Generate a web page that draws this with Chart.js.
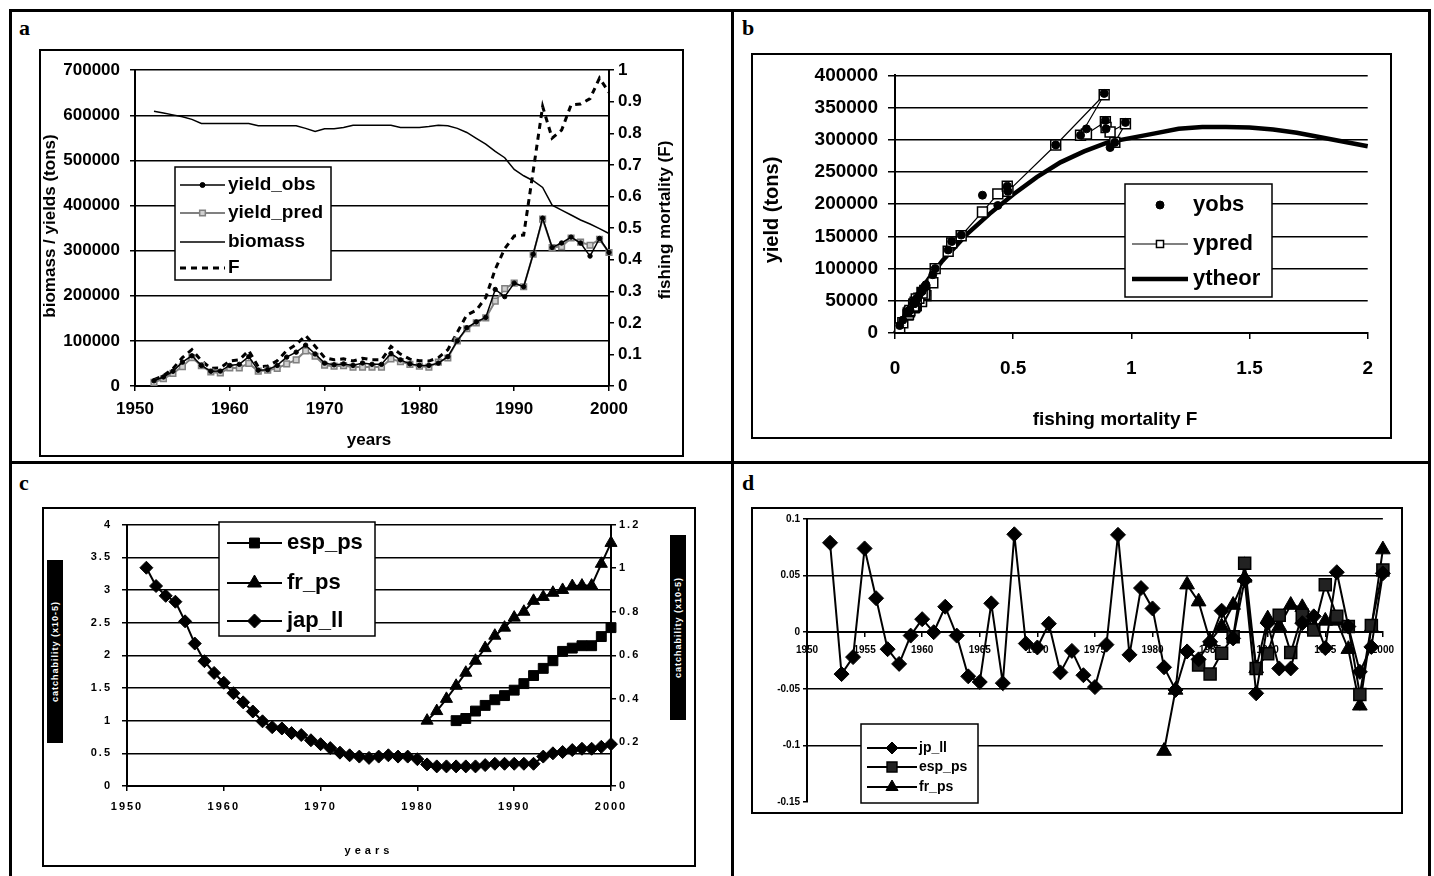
<!DOCTYPE html>
<html>
<head>
<meta charset="utf-8">
<script src="https://cdn.jsdelivr.net/npm/chart.js@4.4.1/dist/chart.umd.min.js"></script>
<style>
  html, body { margin: 0; padding: 0; background: #fff; }
  #page { position: relative; width: 1434px; height: 876px; overflow: hidden; font-family: "Liberation Sans", Arial, sans-serif; }
  #page canvas { position: absolute; }
  .line { position: absolute; background: #000; }
  .box { position: absolute; border: 2px solid #000; box-sizing: border-box; pointer-events: none; }
  .tag { position: absolute; font: bold 22px "Liberation Serif", "Times New Roman", serif; line-height: 22px; }
  .qbox { position: absolute; background: #000; color: #fff; font: bold 9px "Liberation Sans", Arial, sans-serif;
          writing-mode: vertical-rl; transform: rotate(180deg); text-align: center; line-height: 16px;
          letter-spacing: 1px; overflow: hidden; white-space: nowrap; }
</style>
</head>
<body>
<div id="page">
  <canvas id="ca" width="643" height="406" style="left:40px;top:50px"></canvas>
  <canvas id="cb" width="639" height="384" style="left:752px;top:54px"></canvas>
  <canvas id="cc" width="652" height="358" style="left:43px;top:508px"></canvas>
  <canvas id="cd" width="650" height="305" style="left:752px;top:508px"></canvas>

  <div class="box" style="left:39px;top:49px;width:645px;height:408px"></div>
  <div class="box" style="left:751px;top:53px;width:641px;height:386px"></div>
  <div class="box" style="left:42px;top:507px;width:654px;height:360px"></div>
  <div class="box" style="left:751px;top:507px;width:652px;height:307px"></div>

  <div class="qbox" style="left:47px;top:560px;width:16px;height:183px">catchability (x10-5)</div>
  <div class="qbox" style="left:670px;top:535px;width:16px;height:185px">catchability (x10-5)</div>

  <div class="line" style="left:9px;top:9px;width:1422px;height:3px"></div>
  <div class="line" style="left:9px;top:9px;width:3px;height:880px"></div>
  <div class="line" style="left:1428px;top:9px;width:3px;height:880px"></div>
  <div class="line" style="left:731px;top:9px;width:3px;height:880px"></div>
  <div class="line" style="left:9px;top:461px;width:1422px;height:3px"></div>

  <div class="tag" style="left:19px;top:17px">a</div>
  <div class="tag" style="left:742px;top:17px">b</div>
  <div class="tag" style="left:19px;top:472px">c</div>
  <div class="tag" style="left:742px;top:472px">d</div>
</div>

<script>
// ---- data ----
const years = [1952, 1953, 1954, 1955, 1956, 1957, 1958, 1959, 1960, 1961, 1962, 1963, 1964, 1965, 1966, 1967,
  1968, 1969, 1970, 1971, 1972, 1973, 1974, 1975, 1976, 1977, 1978, 1979, 1980, 1981, 1982, 1983, 1984, 1985,
  1986, 1987, 1988, 1989, 1990, 1991, 1992, 1993, 1994, 1995, 1996, 1997, 1998, 1999, 2000];

// panel a (tons, and F on the right axis)
const yieldObs = [11600, 20000, 32600, 53000, 67000, 45600, 32600, 33000, 45600, 48000, 65000, 35000, 36000, 45600,
  64000, 75000, 90500, 71000, 50700, 47000, 49000, 45600, 51000, 48000, 48000, 72000, 58000, 49000, 45600, 45600,
  50700, 65000, 100000, 129000, 142000, 152000, 214000, 198000, 228000, 220000, 292000, 372000, 307000, 317000,
  330000, 317000, 288000, 327000, 296000];
const yieldPred = [8000, 16000, 28000, 43000, 63000, 45000, 31000, 29000, 40000, 40000, 50000, 33000, 35000, 39000,
  49000, 58000, 78000, 66000, 46000, 44000, 45000, 42000, 42000, 42000, 42000, 60000, 54000, 48000, 44000, 42000,
  53000, 62000, 100000, 127000, 140000, 151000, 188000, 216000, 228000, 220000, 292000, 370000, 307000, 309000,
  328000, 319000, 312000, 325000, 296000];
const biomass = [609000, 605000, 601000, 597000, 591000, 582000, 582000, 582000, 582000, 582000, 582000, 577000,
  577000, 577000, 577000, 577000, 571000, 564000, 570000, 570000, 573000, 578000, 578000, 578000, 578000, 578000,
  573000, 573000, 573000, 575000, 578000, 577000, 571000, 562000, 549000, 536000, 520000, 506000, 480000, 466000,
  455000, 440000, 401000, 390000, 379000, 368000, 359000, 349000, 338000];
const fishingF = [0.020, 0.033, 0.055, 0.090, 0.115, 0.080, 0.056, 0.057, 0.079, 0.083, 0.112, 0.061, 0.063, 0.080,
  0.112, 0.131, 0.160, 0.126, 0.090, 0.083, 0.086, 0.079, 0.088, 0.083, 0.083, 0.125, 0.101, 0.085, 0.080, 0.079,
  0.090, 0.115, 0.170, 0.225, 0.240, 0.280, 0.370, 0.435, 0.475, 0.478, 0.680, 0.885, 0.785, 0.810, 0.890, 0.893,
  0.910, 0.975, 0.930];

// panel b theoretical yield curve
const theorF = [0, 0.05, 0.1, 0.15, 0.2, 0.3, 0.4, 0.5, 0.6, 0.7, 0.8, 0.9, 1.0, 1.1, 1.2, 1.3, 1.4, 1.5, 1.6, 1.7,
  1.8, 1.9, 2.0];
const theorY = [0, 33000, 62000, 88000, 112000, 152000, 185000, 215000, 242000, 265000, 282000, 296000, 303000,
  310000, 317000, 320000, 320000, 319000, 316000, 311000, 304000, 297000, 290000];

// panel c catchabilities
const qJapLL = [3.34, 3.06, 2.91, 2.82, 2.52, 2.18, 1.91, 1.73, 1.58, 1.42, 1.28, 1.14, 0.99, 0.90, 0.88, 0.81, 0.78,
  0.70, 0.64, 0.58, 0.51, 0.47, 0.45, 0.43, 0.45, 0.47, 0.45, 0.45, 0.41, 0.33, 0.30, 0.30, 0.30, 0.30, 0.30, 0.32,
  0.34, 0.34, 0.34, 0.34, 0.34, 0.45, 0.50, 0.52, 0.55, 0.57, 0.57, 0.60, 0.64];
const qFrPS = [0.30, 0.344, 0.40, 0.46, 0.52, 0.575, 0.633, 0.69, 0.727, 0.773, 0.80, 0.85, 0.868, 0.887, 0.90,
  0.918, 0.92, 0.92, 1.02, 1.116];
const qEspPS = [0.30, 0.31, 0.344, 0.37, 0.396, 0.415, 0.44, 0.47, 0.507, 0.54, 0.575, 0.618, 0.633, 0.644, 0.644,
  0.686, 0.727];

// panel d residuals
const resJpLL = [0.079, -0.037, -0.022, 0.074, 0.030, -0.015, -0.028, -0.003, 0.0115, 0.000, 0.0225, -0.003, -0.039,
  -0.044, 0.0255, -0.045, 0.0865, -0.010, -0.0135, 0.0075, -0.0355, -0.0165, -0.038, -0.0485, -0.011, 0.086, -0.020,
  0.039, 0.021, -0.031, -0.051, -0.017, -0.024, -0.0085, 0.019, -0.0055, 0.046, -0.054, 0.008, -0.032, -0.032, 0.008,
  0.014, -0.014, 0.053, 0.005, -0.035, -0.013, 0.052];
const resEspPS = [-0.029, -0.037, -0.0185, -0.004, 0.061, -0.032, -0.019, 0.015, -0.018, 0.015, 0.002, 0.042, 0.014,
  0.005, -0.055, 0.006, 0.055];
const resFrPS = [-0.105, -0.051, 0.042, 0.027, -0.008, 0.005, 0.024, 0.048, -0.032, 0.012, 0.005, 0.024, 0.022,
  0.003, 0.010, 0.010, -0.015, -0.065, 0.004, 0.073];

const frYears = years.slice(29);   // 1981-2000
const espYears = years.slice(32);  // 1984-2000

// ---- helpers ----
const FONT = '"Liberation Sans", Arial, sans-serif';
Chart.defaults.font.family = FONT;
Chart.defaults.font.weight = 'bold';
Chart.defaults.color = '#000';
Chart.defaults.plugins.legend.display = false;
Chart.defaults.plugins.tooltip.enabled = false;

const pts = (xs, ys) => xs.map((x, i) => ({ x: x, y: ys[i] }));
const fmt = v => String(Math.round(v * 1000) / 1000);

function mark(ctx, style, r, x, y) {
  ctx.beginPath();
  if (style === 'rect') {
    const s = r * Math.SQRT1_2;
    ctx.rect(x - s, y - s, 2 * s, 2 * s);
  } else if (style === 'rectRot') {
    ctx.moveTo(x, y - r); ctx.lineTo(x + r, y); ctx.lineTo(x, y + r); ctx.lineTo(x - r, y); ctx.closePath();
  } else if (style === 'triangle') {
    ctx.moveTo(x, y - r); ctx.lineTo(x + 0.866 * r, y + 0.5 * r); ctx.lineTo(x - 0.866 * r, y + 0.5 * r); ctx.closePath();
  } else {
    ctx.arc(x, y, r, 0, Math.PI * 2);
  }
  ctx.fill();
  ctx.stroke();
}

// legend drawn as a framed box inside the plot
const boxLegend = {
  id: 'boxLegend',
  afterDatasetsDraw(chart, args, o) {
    if (!o.box) return;
    const ctx = chart.ctx;
    const bx = o.box[0], by = o.box[1], bw = o.box[2], bh = o.box[3];
    ctx.save();
    ctx.letterSpacing = '0px';
    ctx.fillStyle = '#fff';
    ctx.fillRect(bx, by, bw, bh);
    ctx.strokeStyle = '#000';
    ctx.lineWidth = 1.5;
    ctx.strokeRect(bx, by, bw, bh);
    ctx.font = o.font;
    ctx.textBaseline = 'middle';
    ctx.textAlign = 'left';
    o.order.forEach((idx, i) => {
      const ds = chart.data.datasets[idx];
      const y = o.rows[i];
      const x0 = o.line[0], x1 = o.line[1];
      if (ds.showLine !== false) {
        ctx.beginPath();
        ctx.setLineDash(ds.borderDash || []);
        ctx.lineWidth = ds.borderWidth;
        ctx.strokeStyle = ds.borderColor;
        ctx.moveTo(x0, y);
        ctx.lineTo(x1, y);
        ctx.stroke();
        ctx.setLineDash([]);
      }
      if (ds.pointRadius) {
        ctx.fillStyle = ds.pointBackgroundColor;
        ctx.strokeStyle = ds.pointBorderColor;
        ctx.lineWidth = ds.pointBorderWidth || 1;
        mark(ctx, ds.pointStyle, o.radius[i], (x0 + x1) / 2, y);
      }
      ctx.fillStyle = '#000';
      ctx.fillText(ds.label, o.textX, y);
    });
    ctx.restore();
  }
};

// axis titles placed by hand (right titles read bottom-to-top in the original)
const axisTitles = {
  id: 'axisTitles',
  beforeDraw(chart, args, o) { chart.ctx.letterSpacing = o.tickSpacing || '0px'; },
  beforeDatasetsDraw(chart) { chart.ctx.letterSpacing = '0px'; },
  afterDraw(chart, args, o) {
    const ctx = chart.ctx;
    (o.items || []).forEach(t => {
      ctx.save();
      ctx.translate(t.x, t.y);
      if (t.rot) ctx.rotate(t.rot * Math.PI / 180);
      ctx.font = t.font;
      ctx.letterSpacing = t.spacing || '0px';
      ctx.fillStyle = '#000';
      ctx.textAlign = 'center';
      ctx.textBaseline = 'middle';
      ctx.fillText(t.text, 0, 0);
      ctx.restore();
    });
  }
};

const BORDER = { display: true, color: '#000', width: 2 };

// ---- panel a ----
new Chart(document.getElementById('ca'), {
  type: 'line',
  plugins: [boxLegend, axisTitles],
  data: {
    datasets: [
      { label: 'yield_obs', data: pts(years, yieldObs), yAxisID: 'y', borderColor: '#000', borderWidth: 1.5,
        pointStyle: 'circle', pointRadius: 2.2, pointBackgroundColor: '#000', pointBorderColor: '#000', pointBorderWidth: 1 },
      { label: 'yield_pred', data: pts(years, yieldPred), yAxisID: 'y', borderColor: '#808080', borderWidth: 2,
        pointStyle: 'rect', pointRadius: 4, pointBackgroundColor: '#cfcfcf', pointBorderColor: '#808080', pointBorderWidth: 1.5 },
      { label: 'biomass', data: pts(years, biomass), yAxisID: 'y', borderColor: '#000', borderWidth: 1.5, pointRadius: 0 },
      { label: 'F', data: pts(years, fishingF), yAxisID: 'y1', borderColor: '#000', borderWidth: 3,
        borderDash: [6, 5], pointRadius: 0 }
    ]
  },
  options: {
    responsive: false, animation: false, devicePixelRatio: 1, clip: false,
    layout: { autoPadding: false, padding: { left: 0, top: 16, right: 0, bottom: 2 } },
    scales: {
      x: { type: 'linear', min: 1950, max: 2000, border: BORDER,
           grid: { drawOnChartArea: false, color: '#000', lineWidth: 1.5, tickLength: 5 },
           ticks: { stepSize: 10, padding: 8, font: { size: 17 }, callback: fmt },
           afterFit: s => { s.height = 68; } },
      y: { position: 'left', min: 0, max: 700000, border: BORDER,
           grid: { color: '#000', lineWidth: 1.5, tickLength: 5 },
           ticks: { stepSize: 100000, padding: 10, font: { size: 17 }, callback: fmt },
           afterFit: s => { s.width = 95; } },
      y1: { position: 'right', min: 0, max: 1, border: BORDER,
           grid: { drawOnChartArea: false, color: '#000', lineWidth: 1.5, tickLength: 5 },
           ticks: { stepSize: 0.1, padding: 4, font: { size: 17 }, callback: fmt },
           afterFit: s => { s.width = 74; } }
    },
    plugins: {
      boxLegend: { box: [135, 117, 156, 113], rows: [135, 163, 192, 218], line: [140, 185], textX: 188,
                   font: 'bold 19px ' + FONT, order: [0, 1, 2, 3], radius: [2.5, 4, 0, 0] },
      axisTitles: { items: [
        { text: 'biomass / yields (tons)', x: 10, y: 176, rot: -90, font: 'bold 17px ' + FONT },
        { text: 'fishing mortality (F)', x: 625, y: 170, rot: -90, font: 'bold 17px ' + FONT },
        { text: 'years', x: 329, y: 390, font: 'bold 17px ' + FONT }
      ] }
    }
  }
});

// ---- panel b ----
new Chart(document.getElementById('cb'), {
  type: 'scatter',
  plugins: [boxLegend, axisTitles],
  data: {
    datasets: [
      { label: 'yobs', data: pts(fishingF, yieldObs), showLine: false, pointStyle: 'circle', pointRadius: 4,
        pointBackgroundColor: '#000', pointBorderColor: '#000', pointBorderWidth: 1 },
      { label: 'ypred', data: pts(fishingF, yieldPred), showLine: true, borderColor: '#000', borderWidth: 1.2,
        pointStyle: 'rect', pointRadius: 7, pointBackgroundColor: '#fff', pointBorderColor: '#000', pointBorderWidth: 1.5 },
      { label: 'ytheor', data: pts(theorF, theorY), showLine: true, borderColor: '#000', borderWidth: 4.5, pointRadius: 0 }
    ]
  },
  options: {
    responsive: false, animation: false, devicePixelRatio: 1, clip: false,
    layout: { autoPadding: false, padding: { left: 5, top: 20, right: 16, bottom: 3 } },
    scales: {
      x: { type: 'linear', min: 0, max: 2, border: BORDER,
           grid: { drawOnChartArea: false, color: '#000', lineWidth: 1.5, tickLength: 6 },
           ticks: { stepSize: 0.5, padding: 18, font: { size: 19 }, callback: fmt },
           afterFit: s => { s.height = 102; } },
      y: { type: 'linear', min: 0, max: 400000, border: BORDER,
           grid: { color: '#000', lineWidth: 1.5, tickLength: 7 },
           ticks: { stepSize: 50000, padding: 10, font: { size: 19 }, callback: fmt },
           afterFit: s => { s.width = 138; } }
    },
    plugins: {
      boxLegend: { box: [373, 130, 147, 113], rows: [151, 190, 225], line: [380, 436], textX: 441,
                   font: 'bold 22px ' + FONT, order: [0, 1, 2], radius: [4, 5, 0] },
      axisTitles: { items: [
        { text: 'yield (tons)', x: 20, y: 156, rot: -90, font: 'bold 20px ' + FONT },
        { text: 'fishing mortality F', x: 363, y: 366, font: 'bold 19px ' + FONT }
      ] }
    }
  }
});

// ---- panel c ----
new Chart(document.getElementById('cc'), {
  type: 'line',
  plugins: [boxLegend, axisTitles],
  data: {
    datasets: [
      { label: 'esp_ps', data: pts(espYears, qEspPS), yAxisID: 'y1', borderColor: '#000', borderWidth: 2,
        pointStyle: 'rect', pointRadius: 7, pointBackgroundColor: '#000', pointBorderColor: '#000', pointBorderWidth: 1 },
      { label: 'fr_ps', data: pts(frYears, qFrPS), yAxisID: 'y1', borderColor: '#000', borderWidth: 2,
        pointStyle: 'triangle', pointRadius: 7, pointBackgroundColor: '#000', pointBorderColor: '#000', pointBorderWidth: 1 },
      { label: 'jap_ll', data: pts(years, qJapLL), yAxisID: 'y', borderColor: '#000', borderWidth: 2,
        pointStyle: 'rectRot', pointRadius: 6.5, pointBackgroundColor: '#000', pointBorderColor: '#000', pointBorderWidth: 1 }
    ]
  },
  options: {
    responsive: false, animation: false, devicePixelRatio: 1, clip: false,
    layout: { autoPadding: false, padding: { left: 0, top: 15, right: 0, bottom: 4 } },
    scales: {
      x: { type: 'linear', min: 1950, max: 2000, border: BORDER,
           grid: { drawOnChartArea: false, color: '#000', lineWidth: 1.5, tickLength: 5 },
           ticks: { stepSize: 10, padding: 9, font: { size: 11 }, callback: fmt },
           afterFit: s => { s.height = 76; } },
      y: { position: 'left', min: 0, max: 4, border: BORDER,
           grid: { color: '#000', lineWidth: 1.5, tickLength: 5 },
           ticks: { stepSize: 0.5, padding: 10, font: { size: 11 }, callback: fmt },
           afterFit: s => { s.width = 84; } },
      y1: { position: 'right', min: 0, max: 1.2, border: BORDER,
           grid: { drawOnChartArea: false, color: '#000', lineWidth: 1.5, tickLength: 5 },
           ticks: { stepSize: 0.2, padding: 3, font: { size: 11 }, callback: fmt },
           afterFit: s => { s.width = 84; } }
    },
    plugins: {
      boxLegend: { box: [176, 14, 156, 114], rows: [35, 75, 113], line: [184, 239], textX: 244,
                   font: 'bold 22px ' + FONT, order: [0, 1, 2], radius: [7, 8, 7] },
      axisTitles: { tickSpacing: '2px', items: [
        { text: 'years', x: 326, y: 343, font: 'bold 11px ' + FONT, spacing: '4px' }
      ] }
    }
  }
});

// ---- panel d ----
new Chart(document.getElementById('cd'), {
  type: 'line',
  plugins: [boxLegend, axisTitles],
  data: {
    datasets: [
      { label: 'jp_ll', data: pts(years, resJpLL), borderColor: '#000', borderWidth: 2,
        pointStyle: 'rectRot', pointRadius: 7.5, pointBackgroundColor: '#000', pointBorderColor: '#000', pointBorderWidth: 1 },
      { label: 'esp_ps', data: pts(espYears, resEspPS), borderColor: '#000', borderWidth: 2,
        pointStyle: 'rect', pointRadius: 8.5, pointBackgroundColor: '#222', pointBorderColor: '#000', pointBorderWidth: 1.5 },
      { label: 'fr_ps', data: pts(frYears, resFrPS), borderColor: '#000', borderWidth: 2,
        pointStyle: 'triangle', pointRadius: 8.5, pointBackgroundColor: '#000', pointBorderColor: '#000', pointBorderWidth: 1 }
    ]
  },
  options: {
    responsive: false, animation: false, devicePixelRatio: 1, clip: false,
    layout: { autoPadding: false, padding: { left: 0, top: 11, right: 14, bottom: 11 } },
    scales: {
      x: { type: 'linear', min: 1950, max: 2000, position: { y: 0 }, border: BORDER,
           grid: { drawOnChartArea: false, color: '#000', lineWidth: 1.5, tickLength: 4 },
           ticks: { stepSize: 5, padding: 8, font: { size: 10 }, callback: fmt } },
      y: { position: 'left', min: -0.15, max: 0.1, border: BORDER,
           grid: { color: c => Math.abs(c.tick.value + 0.15) < 1e-6 ? 'rgba(0,0,0,0)' : '#000',
                   tickColor: '#000', lineWidth: 1.5, tickLength: 4 },
           ticks: { stepSize: 0.05, padding: 3, font: { size: 10 }, callback: fmt },
           afterFit: s => { s.width = 55; } }
    },
    plugins: {
      boxLegend: { box: [109, 216, 117, 79], rows: [240, 259, 279], line: [115, 165], textX: 167,
                   font: 'bold 14px ' + FONT, order: [0, 1, 2], radius: [6, 7, 7] }
    }
  }
});
</script>
</body>
</html>
